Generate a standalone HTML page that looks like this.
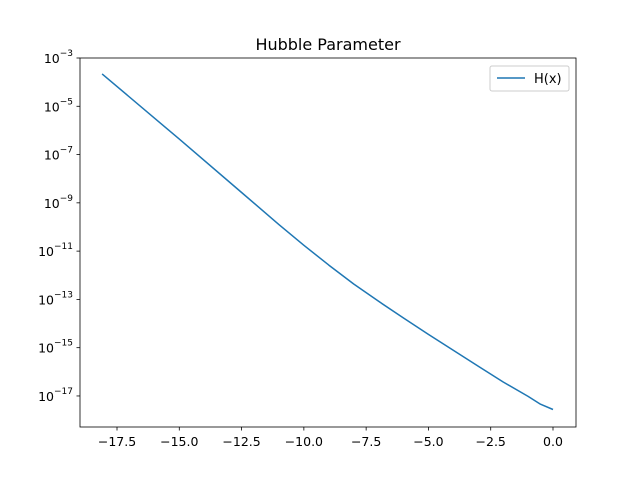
<!DOCTYPE html>
<html><head><meta charset="utf-8"><style>
body{margin:0;background:#fff;}
svg{font-family:"DejaVu Sans","Liberation Sans",sans-serif;}
</style></head><body>
<svg id="chart" width="640" height="480" viewBox="0 0 640 480">
<rect x="0" y="0" width="640" height="480" fill="#fff"/>
<text x="328" y="50" text-anchor="middle" font-size="16">Hubble Parameter</text>
<g id="ticks"></g>
<polyline id="line" fill="none" stroke="#1f77b4" stroke-width="1.5" stroke-linejoin="round"/>
<rect x="80" y="58" width="496" height="369" fill="none" stroke="#000" stroke-width="0.8"/>
<g>
<rect x="490" y="66" width="79" height="25" rx="2" fill="#fff" stroke="#ccc"/>
<line x1="497" y1="78" x2="525" y2="78" stroke="#1f77b4" stroke-width="1.5"/>
<text x="534" y="83" font-size="13">H(x)</text>
</g>
</svg>
<script>
const xs=[-18.1,-15,-12.5,-11,-10,-9,-8,-7,-6,-5,-3,-2,-1,-0.5,0];
const logH=[-3.66,-6.36,-8.57,-9.9,-10.76,-11.58,-12.36,-13.08,-13.77,-14.45,-15.77,-16.42,-17.02,-17.34,-17.56];
const xTicks=[-17.5,-15,-12.5,-10,-7.5,-5,-2.5,0];
const xTickLabels=["−17.5","−15.0","−12.5","−10.0","−7.5","−5.0","−2.5","0.0"];
const yTicks=[-3,-5,-7,-9,-11,-13,-15,-17];
const ns="http://www.w3.org/2000/svg";
function X(v){return 553+v*24.914;}
function Y(l){return 58+(-3-l)*24.14;}
const g=document.getElementById('ticks');
function mk(t,a){const e=document.createElementNS(ns,t);for(const k in a)e.setAttribute(k,a[k]);g.appendChild(e);return e;}
xTicks.forEach((v,i)=>{
 const t=mk('line',{x1:X(v),x2:X(v),y1:427,y2:430.5,stroke:'#000','stroke-width':0.8});
 
 
 const l=mk('text',{x:X(v),y:446,'text-anchor':'middle','font-size':12.5});
 l.textContent=xTickLabels[i];
 
 
});
yTicks.forEach(v=>{
 const t=mk('line',{x1:76.5,x2:80,y1:Y(v),y2:Y(v),stroke:'#000','stroke-width':0.8});
 
 
 const l=mk('text',{x:73,y:Y(v)+5,'text-anchor':'end','font-size':12.5});
 
 
 l.innerHTML='10<tspan dy="-7" font-size="9">'+(v<0?'−':'')+Math.abs(v)+'</tspan>';
});
const pts=xs.map((x,i)=>X(x).toFixed(1)+','+Y(logH[i]).toFixed(1)).join(' ');
document.getElementById('line').setAttribute('points',pts);
</script>
</body></html>
